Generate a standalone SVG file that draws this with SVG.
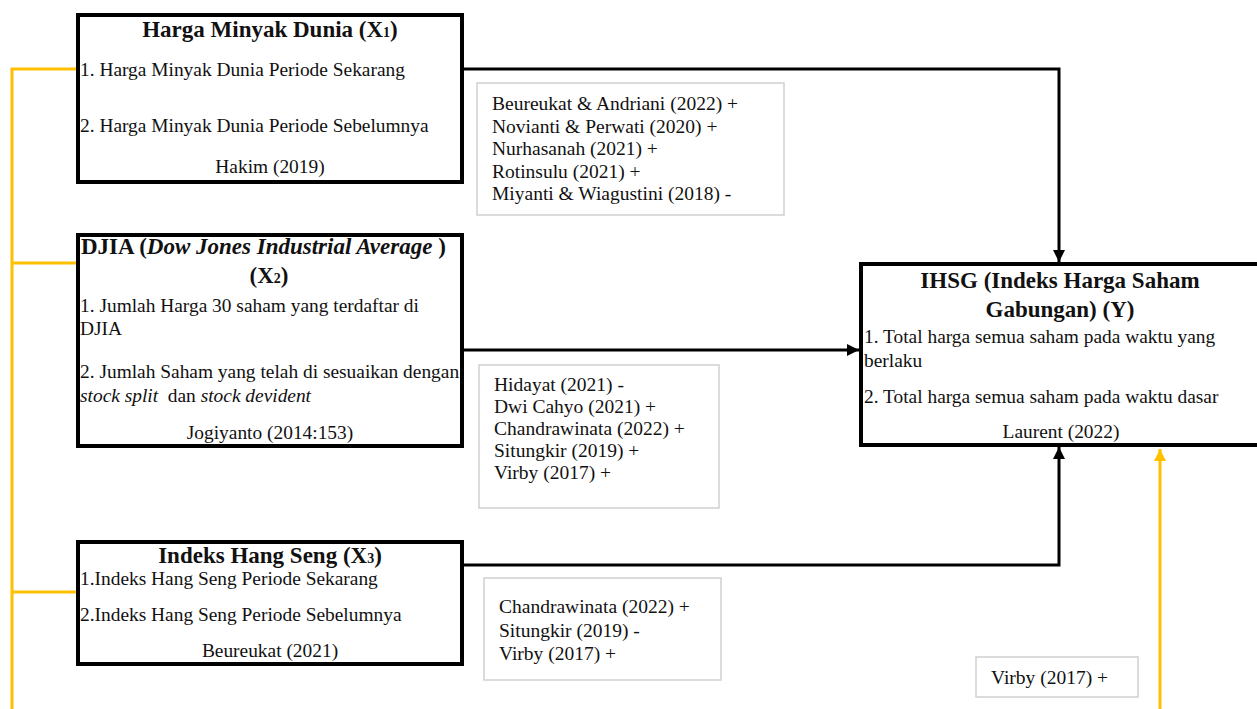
<svg xmlns="http://www.w3.org/2000/svg" width="1257" height="709" viewBox="0 0 1257 709">
<defs>
<marker id="ab" viewBox="0 0 10 10" refX="10" refY="5" markerWidth="4" markerHeight="4" orient="auto" markerUnits="strokeWidth"><path d="M0,0 L10,5 L0,10 Z" fill="#000"/></marker>
<marker id="ay" viewBox="0 0 10 10" refX="10" refY="5" markerWidth="4" markerHeight="4" orient="auto" markerUnits="strokeWidth"><path d="M0,0 L10,5 L0,10 Z" fill="#FFC000"/></marker>
<style>
text{font-family:"Liberation Serif","Times New Roman",serif;fill:#111;}
.t{font-size:23px;font-weight:bold;}
.b{font-size:19.4px;}
.c{font-size:19.5px;}
.m{text-anchor:middle;}
.node{fill:#fff;stroke:#000;stroke-width:4;}
.cite{fill:#fff;stroke:#d0d0d0;stroke-width:1.5;}
.k{fill:none;stroke:#000;stroke-width:3;}
.y{fill:none;stroke:#FFC000;stroke-width:3;}
.sub{font-size:14px;}
</style>
</defs>
<rect width="1257" height="709" fill="#fff"/>

<g id="connectors">
<path class="y" d="M77,69 H12 V709"/>
<path class="y" d="M12,263 H77"/>
<path class="y" d="M12,592 H77"/>
<path class="y" d="M1160,709 V449" marker-end="url(#ay)"/>
<path class="k" d="M463,69 H1059 V262" marker-end="url(#ab)"/>
<path class="k" d="M463,350 H859" marker-end="url(#ab)"/>
<path class="k" d="M463,565 H1059 V447" marker-end="url(#ab)"/>
</g>

<g id="x1">
<rect class="node" x="78" y="15" width="384" height="167"/>
<text class="t m" x="270" y="37">Harga Minyak Dunia (X<tspan class="sub">1</tspan>)</text>
<text class="b" x="80" y="76">1. Harga Minyak Dunia Periode Sekarang</text>
<text class="b" x="80" y="132">2. Harga Minyak Dunia Periode Sebelumnya</text>
<text class="b m" x="270" y="173">Hakim (2019)</text>
</g>

<g id="x2">
<rect class="node" x="78" y="235" width="384" height="211"/>
<text class="t" x="81" y="254">DJIA (<tspan font-style="italic">Dow Jones Industrial Average </tspan>)</text>
<text class="t m" x="269" y="283">(X<tspan class="sub">2</tspan>)</text>
<text class="b" x="80" y="312">1. Jumlah Harga 30 saham yang terdaftar di</text>
<text class="b" x="80" y="335">DJIA</text>
<text class="b" x="80" y="378">2. Jumlah Saham yang telah di sesuaikan dengan</text>
<text class="b" x="80" y="402" xml:space="preserve"><tspan font-style="italic">stock split</tspan>  dan <tspan font-style="italic">stock devident</tspan></text>
<text class="b m" x="270" y="439">Jogiyanto (2014:153)</text>
</g>

<g id="x3">
<rect class="node" x="78" y="542" width="384" height="122"/>
<text class="t m" x="270" y="563">Indeks Hang Seng (X<tspan class="sub">3</tspan>)</text>
<text class="b" x="80" y="585">1.Indeks Hang Seng Periode Sekarang</text>
<text class="b" x="80" y="621">2.Indeks Hang Seng Periode Sebelumnya</text>
<text class="b m" x="270" y="657">Beureukat (2021)</text>
</g>

<g id="y">
<rect class="node" x="861" y="264" width="420" height="181"/>
<text class="t m" x="1060" y="288">IHSG (Indeks Harga Saham</text>
<text class="t m" x="1060" y="317">Gabungan) (Y)</text>
<text class="b" x="864" y="343">1. Total harga semua saham pada waktu yang</text>
<text class="b" x="864" y="367">berlaku</text>
<text class="b" x="864" y="403">2. Total harga semua saham pada waktu dasar</text>
<text class="b m" x="1061" y="438">Laurent (2022)</text>
</g>

<g id="cite1">
<rect class="cite" x="477" y="83" width="307" height="132"/>
<text class="c" x="492" y="110">Beureukat &amp; Andriani (2022) +</text>
<text class="c" x="492" y="132.5">Novianti &amp; Perwati (2020) +</text>
<text class="c" x="492" y="155">Nurhasanah (2021) +</text>
<text class="c" x="492" y="177.5">Rotinsulu (2021) +</text>
<text class="c" x="492" y="200">Miyanti &amp; Wiagustini (2018) -</text>
</g>

<g id="cite2">
<rect class="cite" x="479" y="365" width="240" height="143"/>
<text class="c" x="494" y="391">Hidayat (2021) -</text>
<text class="c" x="494" y="413">Dwi Cahyo (2021) +</text>
<text class="c" x="494" y="435">Chandrawinata (2022) +</text>
<text class="c" x="494" y="457">Situngkir (2019) +</text>
<text class="c" x="494" y="479">Virby (2017) +</text>
</g>

<g id="cite3">
<rect class="cite" x="484" y="578" width="237" height="102"/>
<text class="c" x="499" y="613">Chandrawinata (2022) +</text>
<text class="c" x="499" y="637">Situngkir (2019) -</text>
<text class="c" x="499" y="660">Virby (2017) +</text>
</g>

<g id="cite4">
<rect class="cite" x="976" y="657" width="162" height="40"/>
<text class="c" x="991" y="684">Virby (2017) +</text>
</g>
</svg>
